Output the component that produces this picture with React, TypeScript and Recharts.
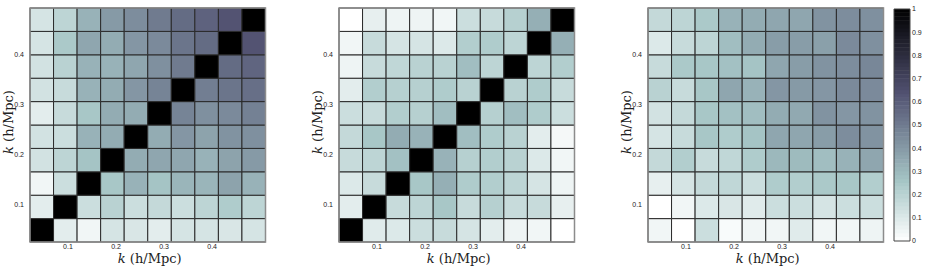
import React from 'react';
import { ComposedChart, XAxis, YAxis, ReferenceArea, Label } from 'recharts';

// k bin edges (h/Mpc) along x and y
const kxEdges = [0.021, 0.07, 0.119, 0.168, 0.217, 0.266, 0.315, 0.364, 0.413, 0.462, 0.511];
const kyEdges = [0.026, 0.0728, 0.1196, 0.1664, 0.2132, 0.26, 0.3068, 0.3536, 0.4004, 0.4472, 0.494];
const kTicks = [0.1, 0.2, 0.3, 0.4];
const cbarTicks = [0, 0.1, 0.2, 0.3, 0.4, 0.5, 0.6, 0.7, 0.8, 0.9, 1];

// Correlation matrices, rows listed from lowest k (bottom) to highest k (top)
const corrLeft = [
  [1, 0.08, 0.04, 0.12, 0.11, 0.08, 0.12, 0.12, 0.11, 0.12],
  [0.08, 1, 0.15, 0.2, 0.15, 0.17, 0.15, 0.19, 0.23, 0.19],
  [0.04, 0.15, 1, 0.25, 0.32, 0.26, 0.31, 0.31, 0.37, 0.32],
  [0.13, 0.19, 0.26, 1, 0.34, 0.36, 0.36, 0.32, 0.37, 0.4],
  [0.13, 0.15, 0.32, 0.34, 1, 0.34, 0.41, 0.37, 0.42, 0.43],
  [0.08, 0.16, 0.25, 0.34, 0.34, 1, 0.47, 0.43, 0.45, 0.48],
  [0.13, 0.16, 0.32, 0.34, 0.41, 0.47, 1, 0.49, 0.52, 0.54],
  [0.13, 0.2, 0.32, 0.32, 0.36, 0.43, 0.5, 1, 0.55, 0.57],
  [0.12, 0.24, 0.36, 0.34, 0.41, 0.45, 0.52, 0.55, 1, 0.63],
  [0.12, 0.19, 0.32, 0.4, 0.44, 0.5, 0.55, 0.58, 0.63, 1],
];

const corrMiddle = [
  [1, 0.09, 0.1, 0.15, 0.16, 0.12, 0.08, 0.05, 0.04, 0.0],
  [0.08, 1, 0.16, 0.19, 0.25, 0.16, 0.21, 0.16, 0.16, 0.07],
  [0.1, 0.16, 1, 0.25, 0.33, 0.23, 0.22, 0.19, 0.12, 0.05],
  [0.16, 0.19, 0.27, 1, 0.32, 0.21, 0.22, 0.2, 0.1, 0.04],
  [0.17, 0.25, 0.34, 0.32, 1, 0.28, 0.23, 0.2, 0.08, 0.03],
  [0.15, 0.16, 0.22, 0.21, 0.28, 1, 0.21, 0.28, 0.23, 0.15],
  [0.08, 0.22, 0.21, 0.21, 0.23, 0.2, 1, 0.2, 0.23, 0.16],
  [0.05, 0.16, 0.18, 0.2, 0.2, 0.28, 0.19, 1, 0.19, 0.22],
  [0.04, 0.16, 0.12, 0.12, 0.1, 0.22, 0.23, 0.19, 1, 0.33],
  [0.0, 0.07, 0.05, 0.05, 0.04, 0.15, 0.16, 0.21, 0.33, 1],
];

const corrRight = [
  [0.04, 0.0, 0.15, 0.02, 0.04, 0.04, 0.09, 0.04, 0.04, 0.05],
  [0.0, 0.04, 0.1, 0.11, 0.09, 0.15, 0.15, 0.12, 0.15, 0.15],
  [0.07, 0.12, 0.17, 0.18, 0.15, 0.23, 0.22, 0.24, 0.25, 0.22],
  [0.17, 0.22, 0.16, 0.18, 0.23, 0.3, 0.29, 0.28, 0.32, 0.36],
  [0.12, 0.16, 0.25, 0.23, 0.26, 0.36, 0.36, 0.39, 0.44, 0.42],
  [0.13, 0.17, 0.25, 0.27, 0.28, 0.34, 0.35, 0.42, 0.41, 0.42],
  [0.2, 0.16, 0.25, 0.36, 0.32, 0.41, 0.4, 0.41, 0.45, 0.45],
  [0.16, 0.24, 0.25, 0.27, 0.26, 0.36, 0.39, 0.42, 0.44, 0.46],
  [0.1, 0.16, 0.19, 0.28, 0.34, 0.39, 0.39, 0.38, 0.45, 0.43],
  [0.17, 0.19, 0.24, 0.32, 0.34, 0.36, 0.36, 0.42, 0.44, 0.43],
];

// matplotlib "bone" colormap segments, used reversed (0 = white, 1 = black)
const boneR: [number, number][] = [[0, 0], [0.746032, 0.652778], [1, 1]];
const boneG: [number, number][] = [[0, 0], [0.365079, 0.319444], [0.746032, 0.777778], [1, 1]];
const boneB: [number, number][] = [[0, 0], [0.365079, 0.444444], [1, 1]];

function seg(pts: [number, number][], t: number): number {
  for (let i = 1; i < pts.length; i++) {
    if (t <= pts[i][0]) {
      const [x0, y0] = pts[i - 1];
      const [x1, y1] = pts[i];
      return y0 + ((t - x0) / (x1 - x0)) * (y1 - y0);
    }
  }
  return pts[pts.length - 1][1];
}

function boneReversed(v: number): string {
  const t = 1 - Math.max(0, Math.min(1, v));
  const r = Math.round(seg(boneR, t) * 255);
  const g = Math.round(seg(boneG, t) * 255);
  const b = Math.round(seg(boneB, t) * 255);
  return `rgb(${r},${g},${b})`;
}

// colour-bar strips (colormap sampling levels)
const cbarLevels: number[] = [];
for (let i = 0; i < 60; i++) cbarLevels.push(i / 60);

const tickFont = { fontSize: 7, fontFamily: 'Liberation Sans, Arial, sans-serif', fill: '#1a1a1a', stroke: 'none' };

const XLab = (props: any) => {
  const vb = props.viewBox || {};
  const cx = vb.x + vb.width / 2 + 2;
  return (
    <text x={cx} y={vb.y + 21} textAnchor="middle" fontFamily="DejaVu Serif, serif" fontSize={13} fill="#222">
      <tspan fontStyle="italic">k</tspan>
      <tspan> (h/Mpc)</tspan>
    </text>
  );
};

const YLab = (props: any) => {
  const vb = props.viewBox || {};
  const cy = vb.y + vb.height / 2 - 3;
  const x = 12.5;
  return (
    <text x={x} y={cy} transform={`rotate(-90, ${x}, ${cy})`} textAnchor="middle" fontFamily="DejaVu Serif, serif" fontSize={13} fill="#222">
      <tspan fontStyle="italic">k</tspan>
      <tspan> (h/Mpc)</tspan>
    </text>
  );
};

function Heatmap({ matrix, left }: { matrix: number[][]; left: number }) {
  const cells: React.ReactNode[] = [];
  matrix.forEach((row, j) => {
    row.forEach((v, i) => {
      cells.push(
        <ReferenceArea
          key={`c-${i}-${j}`}
          x1={kxEdges[i]}
          x2={kxEdges[i + 1]}
          y1={kyEdges[j]}
          y2={kyEdges[j + 1]}
          fill={boneReversed(v)}
          fillOpacity={1}
          stroke="#2a2a2a"
          strokeWidth={1}
          ifOverflow="visible"
        />
      );
    });
  });
  return (
    <div style={{ position: 'absolute', left, top: 0 }}>
      <ComposedChart width={280} height={270} margin={{ top: 8, right: 14.5, bottom: 0, left: 0 }}>
        <XAxis
          type="number"
          dataKey="x"
          domain={[kxEdges[0], kxEdges[kxEdges.length - 1]]}
          ticks={kTicks}
          allowDataOverflow
          axisLine={false}
          tickLine={false}
          tickSize={0}
          tickMargin={2}
          height={28}
          tick={tickFont}
          tickFormatter={(v: number) => String(v)}
        >
          <Label content={<XLab />} />
        </XAxis>
        <YAxis
          type="number"
          dataKey="y"
          domain={[kyEdges[0], kyEdges[kyEdges.length - 1]]}
          ticks={kTicks}
          allowDataOverflow
          axisLine={false}
          tickLine={false}
          tickSize={0}
          tickMargin={6}
          width={30}
          tick={tickFont}
          tickFormatter={(v: number) => String(v)}
        >
          <Label content={<YLab />} />
        </YAxis>
        {cells}
        <ReferenceArea
          x1={kxEdges[0]}
          x2={kxEdges[kxEdges.length - 1]}
          y1={kyEdges[0]}
          y2={kyEdges[kyEdges.length - 1]}
          fill="none"
          stroke="#8c8c8c"
          strokeWidth={1.5}
          ifOverflow="visible"
        />
      </ComposedChart>
    </div>
  );
}

function ColorBar() {
  const step = 1 / cbarLevels.length;
  const strips = cbarLevels.map((v, i) => (
    <ReferenceArea
      key={`s-${i}`}
      x1={0}
      x2={1}
      y1={v}
      y2={Math.min(1, v + step + 0.002)}
      fill={boneReversed(v + step / 2)}
      fillOpacity={1}
      stroke="none"
      ifOverflow="visible"
    />
  ));
  return (
    <div style={{ position: 'absolute', left: 864, top: 0 }}>
      <ComposedChart width={62} height={270} margin={{ top: 9, right: 0, bottom: 0, left: 0 }}>
        <XAxis
          type="number"
          dataKey="x"
          domain={[0, 1]}
          allowDataOverflow
          axisLine={false}
          tickLine={false}
          tick={false}
          height={29}
        />
        <YAxis
          type="number"
          dataKey="y"
          domain={[0, 1]}
          allowDataOverflow
          axisLine={false}
          tickLine={false}
          tick={false}
          width={30}
        />
        <YAxis
          yAxisId="cb"
          type="number"
          dataKey="y"
          orientation="right"
          domain={[0, 1]}
          ticks={cbarTicks}
          allowDataOverflow
          axisLine={false}
          tickLine={false}
          tickSize={0}
          tickMargin={2}
          width={16}
          tick={tickFont}
          tickFormatter={(v: number) => String(v)}
        />
        {strips}
        <ReferenceArea x1={0} x2={1} y1={0} y2={1} fill="none" stroke="#444" strokeWidth={1} ifOverflow="visible" />
      </ComposedChart>
    </div>
  );
}

export default function App() {
  return (
    <div style={{ position: 'absolute', left: 0, top: 0, width: 926, height: 270, background: '#fff' }}>
      <Heatmap matrix={corrLeft} left={0} />
      <Heatmap matrix={corrMiddle} left={309} />
      <Heatmap matrix={corrRight} left={618} />
      <ColorBar />
    </div>
  );
}
